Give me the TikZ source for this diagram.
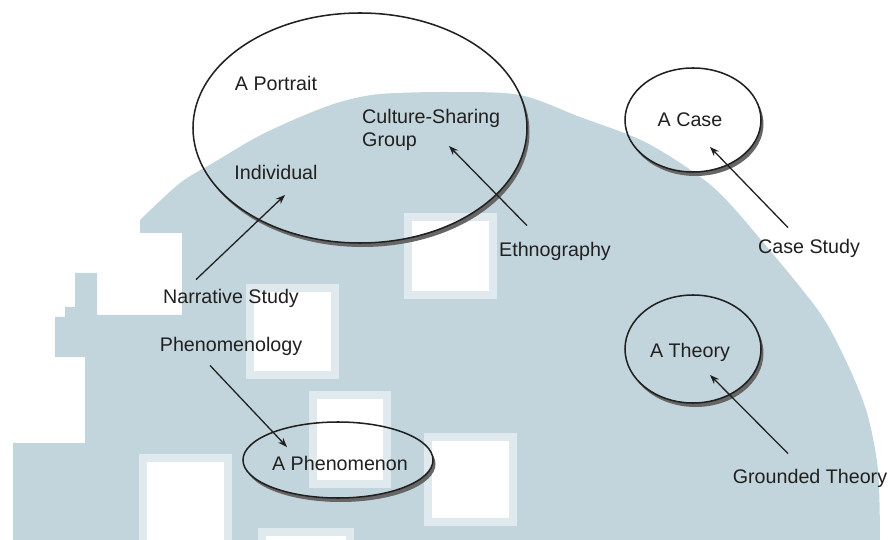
\documentclass[tikz,border=0pt]{standalone}
\usepackage{fontspec}
\setmainfont{Liberation Sans}
\usetikzlibrary{arrows.meta,positioning}

\definecolor{wmblue}{RGB}{195,213,220}
\definecolor{wmpale}{RGB}{224,234,238}
\definecolor{ink}{RGB}{32,32,32}

\begin{document}
\begin{tikzpicture}[x=0.03cm,y=-0.03cm,on grid,
    every node/.style={font=\fontsize{16.8}{19.6}\selectfont,text=ink,inner sep=0pt}]
  \tikzstyle{oval}=[draw=ink,line width=1.3pt]
  \tikzstyle{rim}=[fill=black!60]
  \tikzstyle{arr}=[draw=ink,line width=1.1pt,-{Stealth[length=8pt,width=6pt]}]
  \tikzstyle{hole}=[fill=white,draw=wmpale,line width=6.5pt]

  % page
  \useasboundingbox (0,0) rectangle (891,540);
  \fill[white] (0,0) rectangle (891,540);

  % blue backdrop and the white blocks on it
  \fill[wmblue] (13,540) -- (13,443) -- (85,443) -- (85,357) -- (55,357) -- (55,317)
    -- (65,317) -- (65,307) -- (75,307) -- (75,273) -- (97,273) -- (97,315)
    -- (182,315) -- (182,233) -- (140,233)
    -- plot[smooth] coordinates {(140,220) (180,183) (213,163) (257,137)
      (300,117) (340,102) (380,94) (450,92) (520,95) (580,117) (647,143) (713,187)
      (767,247) (820,313) (847,363) (867,413) (878,470) (880,540)} -- cycle;
  \foreach \xa/\ya/\xb/\yb in {408/217/493/295, 250/288/335/375, 313/395/387/484,
      143/458/228/548, 428/437/513/522, 262/532/350/560}
    \filldraw[hole] (\xa,\ya) rectangle (\xb,\yb);

  % ovals with their shaded rims
  \foreach \cx/\cy/\rx/\ry in {360/128/167/115, 693/120/68/52, 693/349/68/54, 338/460/95/38} {
    \begin{scope}
      \clip (\cx+2.5,\cy+4) ellipse [x radius=\rx,y radius=\ry];
      \fill[rim,even odd rule] (\cx,\cy) ellipse [x radius=\rx,y radius=\ry]
        (\cx-\rx-9,\cy-\ry-9) rectangle (\cx+\rx+9,\cy+\ry+9);
    \end{scope}
    \draw[oval] (\cx,\cy) ellipse [x radius=\rx,y radius=\ry];
  }

  % labels inside the ovals
  \node (portrait) at (276,83) {A Portrait};
  \node (individual) [below=76pt of portrait] {Individual};
  \node[align=left,anchor=west] (culture) at (362,130) {Culture-Sharing\\Group};
  \node (case) at (690,120) {A Case};
  \node (theory) at (690,352) {A Theory};
  \node (phenomenon) at (340,463) {A Phenomenon};

  % approaches
  \node (narrative) at (231,298) {Narrative Study};
  \node (phenomenology) [below=41pt of narrative] {Phenomenology};
  \node (ethno) at (555,251) {Ethnography};
  \node (casestudy) at (809,248) {Case Study};
  \node (grounded) at (810,478) {Grounded Theory};

  % arrows
  \coordinate (indtip) at (285,195);
  \coordinate (grouptip) at (449,146);
  \coordinate (casetip) at (710,147);
  \coordinate (theorytip) at (710,375);
  \coordinate (phentip) at (287,447);
  \draw[arr] ([shift={(-35,-9)}]narrative.north) -- (indtip);
  \draw[arr] ([shift={(-21,10)}]phenomenology.south) -- (phentip);
  \draw[arr] ([shift={(-28,-16)}]ethno.north) -- (grouptip);
  \draw[arr] ([shift={(-21,-11)}]casestudy.north) -- (casetip);
  \draw[arr] ([shift={(-22,-15)}]grounded.north) -- (theorytip);
\end{tikzpicture}
\end{document}
